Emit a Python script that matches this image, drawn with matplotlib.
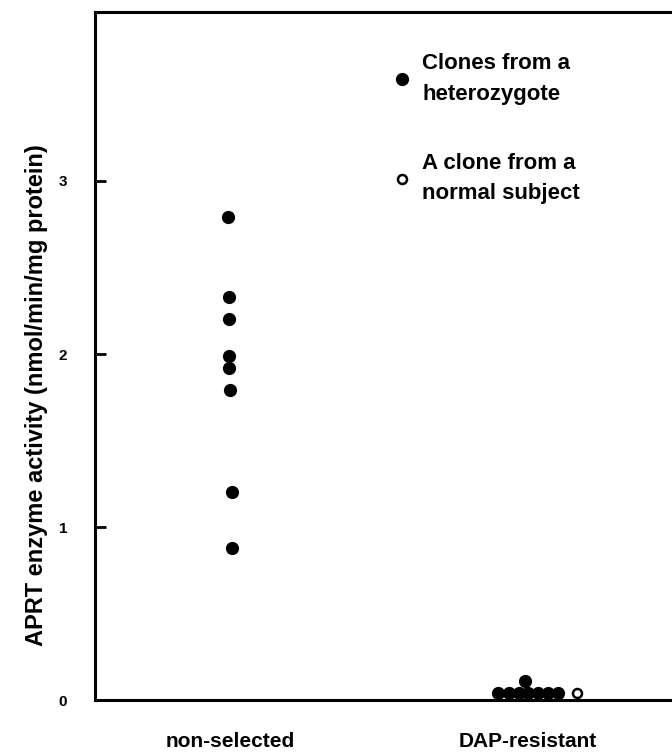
import matplotlib
matplotlib.use("Agg")
import matplotlib.pyplot as plt

plt.rcParams['font.family'] = ['Liberation Sans', 'DejaVu Sans']
plt.rcParams['font.weight'] = 'bold'

categories = ["non-selected", "DAP-resistant"]
cat_pos = [1.0, 2.0]

# Clones from a heterozygote (filled)
nonsel_x = [-0.007, -0.003, -0.003, -0.003, -0.003, 0.0, 0.005, 0.005]
nonsel_y = [2.79, 2.33, 2.20, 1.99, 1.92, 1.79, 1.20, 0.88]
dap_x = [-0.10, -0.064, -0.030, 0.0, 0.034, 0.067, 0.10, -0.010]
dap_y = [0.04, 0.04, 0.04, 0.04, 0.04, 0.04, 0.04, 0.11]
# A clone from a normal subject (open)
normal_x = [0.164]
normal_y = [0.04]

yticks = [0, 1, 2, 3]

fig = plt.figure(figsize=(6.72, 7.52), dpi=100)
ax = fig.add_axes([0.1414, 0.0691, 0.8586, 0.915])

xs_f = [cat_pos[0] + d for d in nonsel_x] + [cat_pos[1] + d for d in dap_x]
ys_f = nonsel_y + dap_y
h1, = ax.plot(xs_f, ys_f, 'o', color='black', markersize=8.5, linestyle='none',
              clip_on=False, zorder=3)
h2, = ax.plot([cat_pos[1] + d for d in normal_x], normal_y, 'o', markerfacecolor='white',
              markeredgecolor='black', markeredgewidth=1.8, markersize=6.5,
              linestyle='none', clip_on=False, zorder=3)

ax.set_xlim(0.547, 2.483)
ax.set_ylim(0, 3.977)

ax.set_yticks(yticks)
ax.set_yticklabels([str(t) for t in yticks], fontsize=11, fontweight='bold')
ax.tick_params(axis='y', direction='in', length=8, width=2, pad=20)
ax.set_xticks(cat_pos)
ax.set_xticklabels(categories, fontsize=15, fontweight='bold')
ax.tick_params(axis='x', length=0, pad=23)

for s in ['left', 'bottom', 'top']:
    ax.spines[s].set_linewidth(2.2)
ax.spines['right'].set_visible(False)

ax.set_ylabel("APRT enzyme activity (nmol/min/mg protein)",
              fontdict={'family': 'Liberation Sans', 'weight': 'bold', 'size': 17})
ax.yaxis.set_label_coords(-0.082, 0.443)

leg = ax.legend([h1, h2], ["Clones from a\nheterozygote", "A clone from a\nnormal subject"],
                loc='upper left', bbox_to_anchor=(0.502, 0.953), frameon=False,
                prop={'family': 'Liberation Sans', 'weight': 'bold', 'size': 16},
                handlelength=0.8, handletextpad=0.5, labelspacing=2.15,
                markerscale=1.0, borderaxespad=0.0)
for t in leg.get_texts():
    t.set_linespacing(1.6)

fig.savefig("out.png", dpi=100)
